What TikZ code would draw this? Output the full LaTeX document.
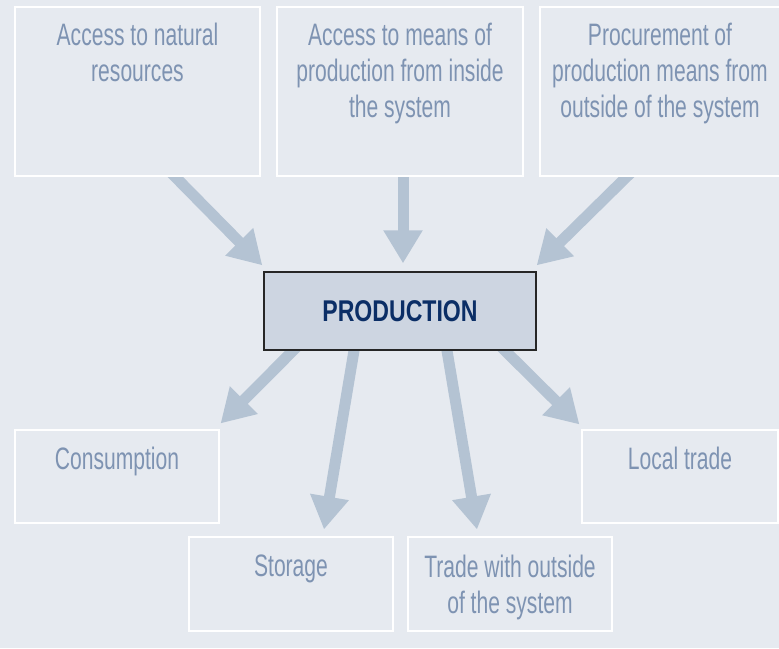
\documentclass[tikz,border=0pt]{standalone}
\usepackage{fontspec}
\setmainfont[FakeStretch=0.68]{Liberation Sans}
\newfontfamily\prodfont[FakeStretch=0.77]{Liberation Sans}
\usetikzlibrary{arrows.meta, positioning, calc, backgrounds}
\definecolor{bgblue}{RGB}{230, 234, 240}
\definecolor{arrowblue}{RGB}{180, 195, 211}
\definecolor{textblue}{RGB}{126, 147, 178}
\definecolor{prodfill}{RGB}{205, 213, 225}
\definecolor{prodnavy}{RGB}{11, 46, 102}

\begin{document}
\begin{tikzpicture}[x=1pt, y=-1pt,
  boxw/.style={draw=white, line width=1.1pt, fill=bgblue, inner sep=0pt},
  boxtxt/.style={inner sep=0pt, align=center, text=textblue, font=\fontsize{31}{36}\selectfont},
  flow/.style={line width=11pt, arrowblue, -{Triangle[width=37pt, length=33pt]}}]
  \useasboundingbox (0, 0) rectangle (779, 648);

  % Inputs
  \node[boxw, minimum width=245pt, minimum height=169pt] (in1) at (137.5, 91.5) {};
  \node[boxw, minimum width=246pt, minimum height=169pt] (in2) at (400, 91.5) {};
  \node[boxw, minimum width=240pt, minimum height=169pt] (in3) at (660, 91.5) {};
  \node[boxtxt, below=16pt of in1.north] (in1txt) {Access to natural\\resources};
  \node[boxtxt, below=16pt of in2.north] (in2txt) {Access to means of\\production from inside\\the system};
  \node[boxtxt, below=16pt of in3.north] (in3txt) {Procurement of\\production means from\\outside of the system};

  % Production
  \node[draw=black!85, line width=1.3pt, fill=prodfill, minimum width=272pt, minimum height=78pt,
    text=prodnavy, font=\prodfont\bfseries\fontsize{30}{36}\selectfont] (prod) at (400, 311) {PRODUCTION};

  % Outputs
  \node[boxw, minimum width=204pt, minimum height=93pt] (cons) at (117, 476.5) {};
  \node[boxw, minimum width=196pt, minimum height=93pt] (loc) at (680, 476.5) {};
  \node[boxw, minimum width=204pt, minimum height=94pt] (stor) at (291, 584) {};
  \node[boxw, minimum width=204pt, minimum height=94pt] (out) at (510, 584) {};
  \node[boxtxt, below=17pt of cons.north] (constxt) {Consumption};
  \node[boxtxt, below=17pt of loc.north] (loctxt) {Local trade};
  \node[boxtxt, below=18pt of stor.north] (stortxt) {Storage};
  \node[boxtxt, below=18pt of out.north] (outtxt) {Trade with outside\\of the system};

  \begin{scope}[on background layer]
    \fill[bgblue] (0, 0) rectangle (779, 648);
    % Arrows in
    \draw[flow] ($(in1.south)+(31.5,-6)$) -- ($(prod.north west)+(-1,-6)$);
    \draw[flow] ($(in2.south)+(3,-6)$) -- ($(prod.north)+(3,-8)$);
    \draw[flow] ($(in3.south)+(-27,-6)$) -- ($(prod.north east)+(0,-6)$);
    % Arrows out
    \draw[flow] ($(prod.south)+(-101,-6)$) -- ($(cons.north east)+(1,-6)$);
    \draw[flow] ($(prod.south)+(-45,-6)$) -- ($(stor.north)+(33,-7)$);
    \draw[flow] ($(prod.south)+(46,-6)$) -- ($(out.north)+(-33,-7)$);
    \draw[flow] ($(prod.south)+(99,-6)$) -- ($(loc.north west)+(-2,-5)$);
  \end{scope}
\end{tikzpicture}
\end{document}
